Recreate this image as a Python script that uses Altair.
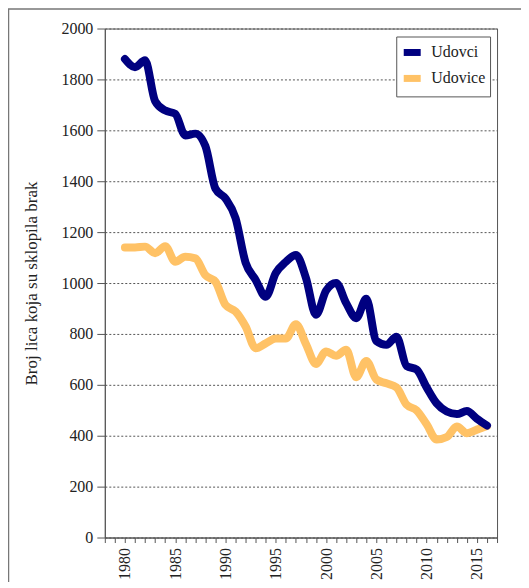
import altair as alt
import pandas as pd

years = list(range(1980, 2017))
udovci = [1880, 1848, 1875, 1715, 1678, 1665, 1580, 1587, 1538, 1371, 1332, 1255, 1080, 1012,
          946, 1039, 1083, 1110, 1020, 875, 970, 1000, 921, 862, 938, 772, 757, 789, 674, 660,
          590, 527, 495, 485, 497, 467, 440]
udovice = [1140, 1140, 1143, 1117, 1145, 1084, 1103, 1097, 1031, 1005, 914, 888, 829, 744,
           763, 782, 782, 838, 760, 682, 731, 714, 738, 630, 694, 621, 606, 590, 522, 500,
           445, 385, 395, 436, 410, 424, 438]
series_names = ["Udovci", "Udovice"]
series_colors = ["#000080", "#FFC266"]
y_ticks = list(range(0, 2001, 200))
x_ticks = list(range(1978, 2018))

rows = []
for y, v in zip(years, udovice):
    rows.append({"Godina": y, "Vrijednost": v, "Serija": "Udovice"})
for y, v in zip(years, udovci):
    rows.append({"Godina": y, "Vrijednost": v, "Serija": "Udovci"})
df = pd.DataFrame(rows)

FONT = "Liberation Serif, Times New Roman, serif"

lines = alt.Chart(df).mark_line(
    strokeWidth=8, interpolate="monotone", strokeCap="round", strokeJoin="round"
).encode(
    x=alt.X("Godina:Q",
            scale=alt.Scale(domain=[1978, 2017], nice=False, zero=False),
            axis=alt.Axis(values=x_ticks, format="d",
                          labelExpr="datum.value % 5 == 0 ? datum.label : ''",
                          labelAngle=-90, labelOverlap=False, grid=False,
                          tickSize=5, labelPadding=5, title=None,
                          labelFont=FONT, labelFontSize=16, labelColor="#222",
                          domainColor="#555", tickColor="#555")),
    y=alt.Y("Vrijednost:Q",
            scale=alt.Scale(domain=[0, 2000], nice=False),
            axis=alt.Axis(values=y_ticks, format="d", grid=True, gridDash=[2, 2],
                          gridColor="#555", gridWidth=1, tickSize=8, labelPadding=4,
                          title="Broj lica koja su sklopila brak",
                          titleFont=FONT, titleFontSize=17, titleFontWeight="normal",
                          titleColor="#222", titlePadding=20,
                          labelFont=FONT, labelFontSize=16, labelColor="#222",
                          domainColor="#555", tickColor="#555")),
    color=alt.Color("Serija:N",
                    scale=alt.Scale(domain=series_names, range=series_colors),
                    legend=alt.Legend(title=None, orient="none", legendX=292, legendY=8,
                                      symbolType="stroke", symbolSize=289,
                                      symbolStrokeWidth=7, labelFont=FONT,
                                      labelFontSize=16, labelColor="#222",
                                      labelOffset=7, padding=4, rowPadding=-2,
                                      strokeColor="#555", fillColor="white")),
)

frame = alt.Chart(pd.DataFrame({"a": [0]})).mark_rect(
    fill=None, stroke="#777", strokeWidth=1.5, clip=False
).encode(
    x=alt.value(-96.5), x2=alt.value(700), y=alt.value(-19.5), y2=alt.value(800)
)

chart = alt.layer(lines, frame).properties(
    width=393, height=510,
    autosize=alt.AutoSizeParams(type="none"),
    padding={"left": 97, "top": 20, "right": 24, "bottom": 44},
).configure_view(stroke="#555", strokeWidth=1)

chart.save("out.html", embed_options={"renderer": "svg", "actions": False})
